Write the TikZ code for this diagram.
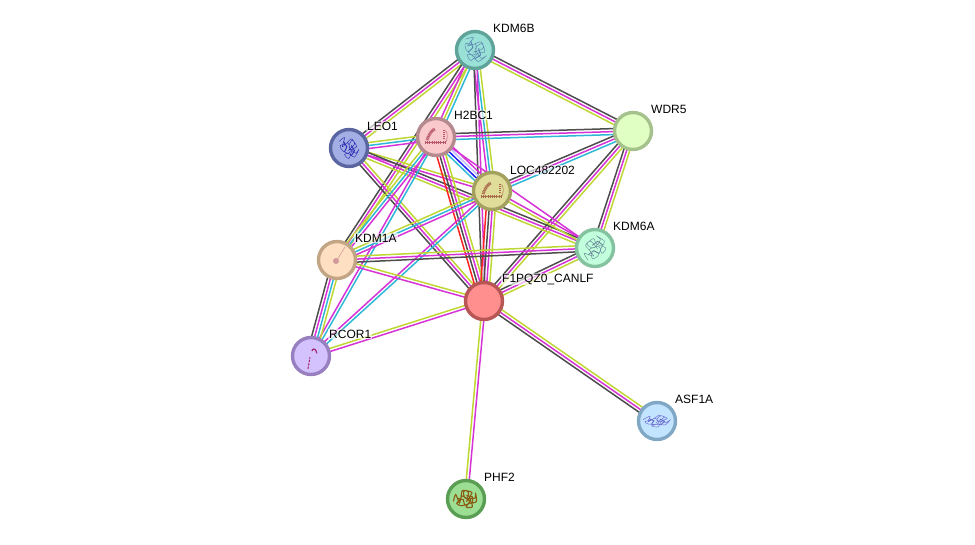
\documentclass[tikz,border=0pt]{standalone}
\usepackage{fontspec}
\setmainfont{Liberation Sans}
\usetikzlibrary{calc,backgrounds}
\definecolor{dk}{HTML}{4D4D4D}
\definecolor{mg}{HTML}{D633D6}
\definecolor{yg}{HTML}{BFD633}
\definecolor{cy}{HTML}{2EB8D6}
\definecolor{rd}{HTML}{FF2020}
\definecolor{bl}{HTML}{2020FF}
\definecolor{lv}{HTML}{C0C0FF}
\definecolor{KDM6Bfill}{HTML}{99E0D6}\definecolor{KDM6Bline}{HTML}{5FA39A}\definecolor{KDM6Bfold}{HTML}{5A82B0}
\definecolor{WDR5fill}{HTML}{E0FFC2}\definecolor{WDR5line}{HTML}{A6C28C}
\definecolor{H2BC1fill}{HTML}{F9C9CC}\definecolor{H2BC1line}{HTML}{B58A8E}\definecolor{H2BC1fold}{HTML}{B8566A}
\definecolor{LEO1fill}{HTML}{A3AEE5}\definecolor{LEO1line}{HTML}{5A66A0}\definecolor{LEO1fold}{HTML}{2A2AB0}
\definecolor{LOCfill}{HTML}{E0DC99}\definecolor{LOCline}{HTML}{A3A060}\definecolor{LOCfold}{HTML}{A8684A}
\definecolor{KDM6Afill}{HTML}{C2FFDC}\definecolor{KDM6Aline}{HTML}{85C2A0}\definecolor{KDM6Afold}{HTML}{6A8A9A}
\definecolor{KDM1Afill}{HTML}{FFDFC2}\definecolor{KDM1Aline}{HTML}{C2A585}\definecolor{KDM1Afold}{HTML}{D09A9A}
\definecolor{F1fill}{HTML}{FF8F8F}\definecolor{F1line}{HTML}{B85555}
\definecolor{RCOR1fill}{HTML}{D4C2FF}\definecolor{RCOR1line}{HTML}{9880C0}\definecolor{RCOR1fold}{HTML}{A02A70}
\definecolor{ASF1Afill}{HTML}{C2E4FF}\definecolor{ASF1Aline}{HTML}{80A8C4}\definecolor{ASF1Afold}{HTML}{6A6AD0}
\definecolor{PHF2fill}{HTML}{9CDF94}\definecolor{PHF2line}{HTML}{5A9E54}\definecolor{PHF2fold}{HTML}{8A5A10}
\newcommand{\lnk}[3]{%
  \foreach \lnkcol [count=\lnkn] in {#3} {\xdef\lnktotal{\lnkn}}%
  \foreach \lnkcol [count=\lnki] in {#3} {%
    \pgfmathsetmacro\lnkoff{(\lnki-(\lnktotal+1)/2)*3}%
    \draw[ppiedge, draw=\lnkcol, lane=\lnkoff] (#1) to (#2);}}
\begin{document}
\begin{tikzpicture}[x=1pt, y=-1pt]
\useasboundingbox (0,0) rectangle (975,544);
\tikzset{ppinode/.style 2 args={shape=circle, minimum size=37pt, inner sep=0pt, line width=3.4pt, fill=#1, draw=#2}}
\tikzset{ppiedge/.style={line width=1.5pt}}
\tikzset{lane/.style={to path={($(\tikztostart)!#1pt!90:(\tikztotarget)$) -- ($(\tikztotarget)!#1pt!-90:(\tikztostart)$)}}}
\tikzset{ppilabel/.style={anchor=west, inner sep=1pt, fill=white, fill opacity=0.65, text opacity=1, font=\fontsize{12}{14}\selectfont}}
\tikzset{pics/tangle/.style={code={
  \draw[line width=0.45pt, #1] plot [smooth] coordinates {(-9,-5) (-4,-8) (-6,-1) (-1,-4) (1,3) (-4,5) (0,8) (3,1) (7,-1) (3,-6) (0,-1) (6,4) (9,1) (5,7) (1,5) (-6,2) (-8,-2) (-3,-3) (2,-7) (5,-3) (-1,2)};
  \draw[line width=0.9pt, #1] (-5,-5) -- (-2,-1) -- (-4,3) (2,-2) -- (5,2) -- (2,6);}}}
\tikzset{pics/histone/.style={code={
  \draw[line width=0.8pt, #1] (-11,5) -- (10,5);
  \draw[line width=3pt, dash pattern=on 1pt off 1.2pt, #1] (-11,5) -- (10,5);
  \draw[line width=3pt, dash pattern=on 1pt off 0.6pt, #1] (-9,3) .. controls (-7,-3) and (-4,-7) .. (-1,-8);
  \draw[line width=2.4pt, dash pattern=on 1pt off 0.9pt, #1] (8,-7) -- (8,1);
  \draw[line width=0.4pt, #1] (8,-7) .. controls (12,-6) and (12,0) .. (10,5);}}}
% proteins
\node (KDM6B) [ppinode={KDM6Bfill}{KDM6Bline}] at (475, 50) {};
\node (WDR5)  [ppinode={WDR5fill}{WDR5line}]   at (633,131) {};
\node (H2BC1) [ppinode={H2BC1fill}{H2BC1line}] at (436,137) {};
\node (LEO1)  [ppinode={LEO1fill}{LEO1line}]   at (349,148) {};
\node (LOC)   [ppinode={LOCfill}{LOCline}]     at (492,191) {};
\node (KDM6A) [ppinode={KDM6Afill}{KDM6Aline}] at (595,248) {};
\node (KDM1A) [ppinode={KDM1Afill}{KDM1Aline}] at (337,260) {};
\node (F1)    [ppinode={F1fill}{F1line}]       at (484,301) {};
\node (RCOR1) [ppinode={RCOR1fill}{RCOR1line}] at (311,356) {};
\node (ASF1A) [ppinode={ASF1Afill}{ASF1Aline}] at (657,421) {};
\node (PHF2)  [ppinode={PHF2fill}{PHF2line}]   at (466,499) {};
% structures inside the proteins
\pic[rotate=-20, scale=1.4] at (KDM6B) {tangle={color=KDM6Bfold}};
\pic[yscale=1.3, xscale=1.1] at (LEO1) {tangle={color=LEO1fold}};
\pic[rotate=90, scale=1.35] at (KDM6A) {tangle={color=KDM6Afold}};
\pic[rotate=10, xscale=1.5, yscale=0.75] at (ASF1A) {tangle={color=ASF1Afold}};
\pic[rotate=40, scale=1.25] at (PHF2) {tangle={color=PHF2fold, line width=1.1pt}};
\pic at (H2BC1) {histone={color=H2BC1fold}};
\pic at (LOC) {histone={color=LOCfold}};
\draw[line width=0.6pt, color=KDM1Afold] (337,260) -- (345,247);
\fill[color=KDM1Afold] (336,261) circle [radius=3pt];
\draw[line width=1pt, color=RCOR1fold, dash pattern=on 2.5pt off 1pt] (308,369) -- (310,357);
\draw[line width=1.2pt, color=RCOR1fold] (312,351) arc [start angle=180, end angle=20, radius=2pt] -- ++(1,3);
% associations
\begin{pgfonlayer}{background}
\lnk{WDR5}{KDM6B}{dk,mg,yg}
\lnk{KDM6B}{LEO1}{dk,mg,yg}
\lnk{KDM6B}{KDM1A}{dk,mg,yg}
\lnk{KDM6B}{H2BC1}{mg,yg,cy}
\lnk{KDM6B}{LOC}{mg,cy,yg}
\lnk{KDM6B}{F1}{dk,mg}
\lnk{WDR5}{H2BC1}{dk,mg,cy}
\lnk{WDR5}{LOC}{dk,mg,cy}
\lnk{WDR5}{F1}{dk,mg,yg}
\lnk{WDR5}{KDM6A}{dk,mg,yg}
\lnk{LEO1}{H2BC1}{mg,cy,yg}
\lnk{LEO1}{LOC}{mg,yg}
\lnk{LEO1}{KDM6A}{yg,mg,dk}
\lnk{LEO1}{F1}{dk,mg,yg}
\lnk{H2BC1}{LOC}{cy,bl,lv,mg}
\lnk{H2BC1}{KDM6A}{mg}
\lnk{H2BC1}{F1}{rd,dk,mg,yg}
\lnk{H2BC1}{KDM1A}{yg,cy,mg}
\lnk{H2BC1}{RCOR1}{mg,cy}
\lnk{LOC}{KDM6A}{yg,mg}
\lnk{LOC}{F1}{rd,dk,mg,yg}
\lnk{LOC}{KDM1A}{yg,cy,mg}
\lnk{LOC}{RCOR1}{mg,cy}
\lnk{KDM6A}{KDM1A}{yg,mg,dk}
\lnk{KDM6A}{F1}{dk,mg,yg}
\lnk{KDM1A}{RCOR1}{dk,mg,cy,yg}
\lnk{F1}{KDM1A}{yg,mg}
\lnk{F1}{RCOR1}{yg,mg}
\lnk{F1}{ASF1A}{dk,mg,yg}
\lnk{F1}{PHF2}{yg,mg}
\end{pgfonlayer}
% names
\node (KDM6Blabel) [ppilabel] at (492, 28) {KDM6B};
\node (WDR5label)  [ppilabel] at (650,109) {WDR5};
\node (H2BC1label) [ppilabel] at (453,115) {H2BC1};
\node (LEO1label)  [ppilabel] at (366,126) {LEO1};
\node (LOClabel)   [ppilabel] at (509,170) {LOC482202};
\node (KDM6Alabel) [ppilabel] at (612,226) {KDM6A};
\node (KDM1Alabel) [ppilabel] at (354,238) {KDM1A};
\node (F1label)    [ppilabel] at (501,279) {F1PQZ0\_CANLF};
\node (RCOR1label) [ppilabel] at (328,334) {RCOR1};
\node (ASF1Alabel) [ppilabel] at (674,399) {ASF1A};
\node (PHF2label)  [ppilabel] at (483,477) {PHF2};
\end{tikzpicture}
\end{document}
